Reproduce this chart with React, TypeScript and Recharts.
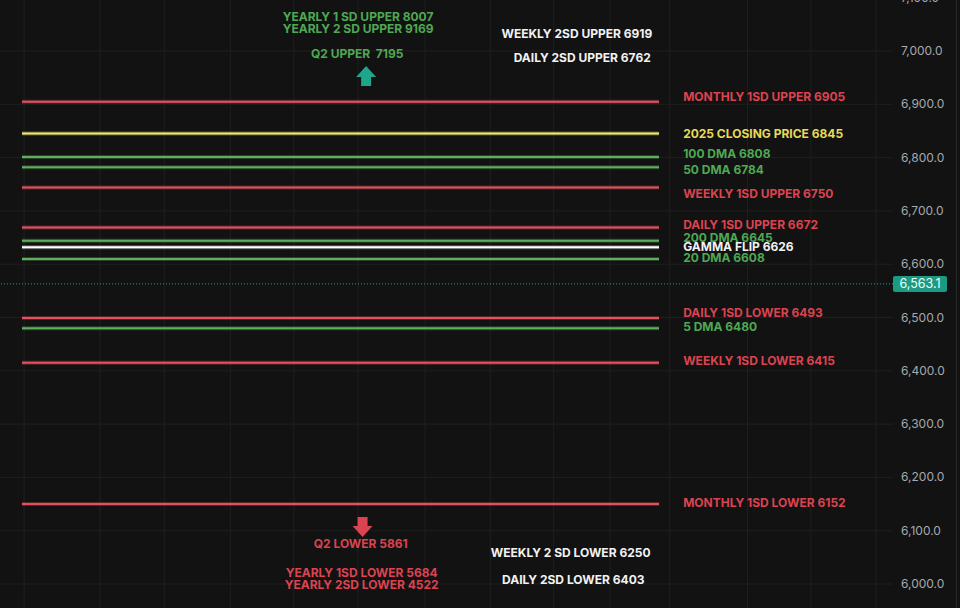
import React from 'react';
import {
  ComposedChart,
  XAxis,
  YAxis,
  CartesianGrid,
  ReferenceLine,
  ReferenceDot,
} from 'recharts';

const BG = '#121212';
const GRID = '#1f1f1f';
const RED = '#dc4351';
const RED_LINE = '#e5505c';
const GREEN = '#4fa853';
const GREEN_LINE = '#5fae5f';
const YELLOW = '#e6da58';
const YELLOW_LINE = '#f2e775';
const WHITE = '#f2f2f2';
const TEAL = '#1fa58c';
const AXIS_TEXT = '#a6a9b0';

const levelLabels = [
  'MONTHLY 1SD UPPER 6905',
  '2025 CLOSING PRICE 6845',
  '100 DMA 6808',
  '50 DMA 6784',
  'WEEKLY 1SD UPPER 6750',
  'DAILY 1SD UPPER 6672',
  '200 DMA 6645',
  'GAMMA FLIP 6626',
  '20 DMA 6608',
  'DAILY 1SD LOWER 6493',
  '5 DMA 6480',
  'WEEKLY 1SD LOWER 6415',
  'MONTHLY 1SD LOWER 6152',
];
const levelPrices = [6905, 6845, 6801, 6782, 6744, 6669, 6644, 6632, 6610, 6499, 6480, 6415, 6150];
const levelKinds = ['red', 'yellow', 'green', 'green', 'red', 'red', 'green', 'white', 'green', 'red', 'green', 'red', 'red'];
const labelNudge = [-5, 0, -3, 3, 7, -2, -3, 0, -1, -5, -1, -2, -1];

// floating notes
const noteTexts = [
  'YEARLY 1 SD UPPER 8007',
  'YEARLY 2 SD UPPER 9169',
  'Q2 UPPER  7195',
  'WEEKLY 2SD UPPER 6919',
  'DAILY 2SD UPPER 6762',
  'Q2 LOWER 5861',
  'WEEKLY 2 SD LOWER 6250',
  'YEARLY 1SD LOWER 5684',
  'YEARLY 2SD LOWER 4522',
  'DAILY 2SD LOWER 6403',
];
const noteTime = [40.1, 40.1, 40.0, 64.6, 65.2, 40.4, 63.9, 40.5, 40.5, 64.2];
const notePrice = [7064, 7041, 6994, 7032, 6987, 6075, 6058, 6021, 5998, 6007];
const noteKinds = ['green', 'green', 'green', 'white', 'white', 'red', 'white', 'red', 'red', 'white'];

const priceTicks = [6000, 6100, 6200, 6300, 6400, 6500, 6600, 6700, 6800, 6900, 7000, 7100];
const timeTicks = [2.7, 11.2, 18.4, 25.8, 32.9, 40.1, 47.6, 54.9, 62.0, 68.3, 75.0, 83.7, 90.8, 98.1];

const lastPrice = 6563.1;
const lineStart = 2.46;
const lineEnd = 73.8;
const labelAt = 76.5;

const textColor: Record<string, string> = { red: RED, green: GREEN, yellow: YELLOW, white: WHITE };
const lineColor: Record<string, string> = { red: RED_LINE, green: GREEN_LINE, yellow: YELLOW_LINE, white: '#ffffff' };

const fmt = (v: number) =>
  v.toLocaleString('en-US', { minimumFractionDigits: 1, maximumFractionDigits: 1 });

function PriceTick({ x, y, payload }: any) {
  return (
    <text x={x} y={y} dy={4} fill={AXIS_TEXT} fontSize={12} textAnchor="start">
      {fmt(payload.value)}
    </text>
  );
}

function PriceBox({ viewBox }: any) {
  const x = viewBox.x + viewBox.width;
  const y = viewBox.y;
  return (
    <g>
      <rect x={x} y={y - 8} width={54} height={16} rx={2} fill="#1d9a83" />
      <text x={x + 27} y={y + 4.5} fill="#e8fff8" fontSize={12.5} textAnchor="middle">
        {fmt(lastPrice)}
      </text>
    </g>
  );
}

const upArrow = ({ cx, cy }: any) => (
  <path
    d={`M${cx},${cy - 10} L${cx + 10},${cy + 1} L${cx + 5},${cy + 1} L${cx + 5},${cy + 10} L${cx - 5},${cy + 10} L${cx - 5},${cy + 1} L${cx - 10},${cy + 1} Z`}
    fill={TEAL}
  />
);

const downArrow = ({ cx, cy }: any) => (
  <path
    d={`M${cx},${cy + 10} L${cx + 10},${cy - 1} L${cx + 5},${cy - 1} L${cx + 5},${cy - 10} L${cx - 5},${cy - 10} L${cx - 5},${cy - 1} L${cx - 10},${cy - 1} Z`}
    fill={RED}
  />
);

export default function App() {
  return (
    <div style={{ position: 'absolute', left: 0, top: 0, width: 960, height: 608, background: BG }}>
      <ComposedChart
        width={956}
        height={608}
        data={[]}
        margin={{ top: 0, right: 0, bottom: 0, left: 0 }}
        style={{ fontFamily: 'Inter, sans-serif', borderRight: '1px solid #2a2a2a' }}
      >
        <CartesianGrid
          stroke={GRID}
          horizontalValues={priceTicks}
          verticalValues={timeTicks}
        />
        <XAxis type="number" dataKey="t" domain={[0, 100]} hide allowDataOverflow />
        <YAxis
          orientation="right"
          type="number"
          domain={[5955, 7095.7]}
          allowDataOverflow
          ticks={priceTicks}
          width={63}
          axisLine={false}
          tickLine={false}
          tickSize={0}
          tickMargin={8}
          tick={<PriceTick />}
          interval={0}
        />

        <ReferenceLine
          y={lastPrice}
          stroke={TEAL}
          strokeDasharray="1 2"
          label={<PriceBox />}
        />

        {levelPrices.map((p, i) => (
          <ReferenceLine
            key={'h' + i}
            segment={[{ x: lineStart, y: p }, { x: lineEnd, y: p }]}
            stroke={lineColor[levelKinds[i]]}
            strokeOpacity={0.3}
            strokeWidth={4}
          />
        ))}
        {levelPrices.map((p, i) => (
          <ReferenceLine
            key={'l' + i}
            segment={[{ x: lineStart, y: p }, { x: lineEnd, y: p }]}
            stroke={lineColor[levelKinds[i]]}
            strokeWidth={2}
          />
        ))}
        {levelPrices.map((p, i) => (
          <ReferenceDot
            key={'t' + i}
            x={labelAt}
            y={p}
            r={0}
            shape={({ cx, cy }: any) => (
              <text
                x={cx}
                y={cy + labelNudge[i]}
                dy={4}
                fill={textColor[levelKinds[i]]}
                fontSize={12}
                fontWeight={700}
                textAnchor="start"
              >
                {levelLabels[i]}
              </text>
            )}
          />
        ))}

        {noteTexts.map((t, i) => (
          <ReferenceDot
            key={'n' + i}
            x={noteTime[i]}
            y={notePrice[i]}
            r={0}
            shape={({ cx, cy }: any) => (
              <text
                x={cx}
                y={cy}
                dy={4}
                fill={textColor[noteKinds[i]]}
                fontSize={12}
                fontWeight={700}
                textAnchor="middle"
                style={{ whiteSpace: 'pre' }}
              >
                {t}
              </text>
            )}
          />
        ))}
        <ReferenceDot x={41.0} y={6953} r={0} shape={upArrow} />
        <ReferenceDot x={40.6} y={6107} r={0} shape={downArrow} />
      </ComposedChart>
    </div>
  );
}
